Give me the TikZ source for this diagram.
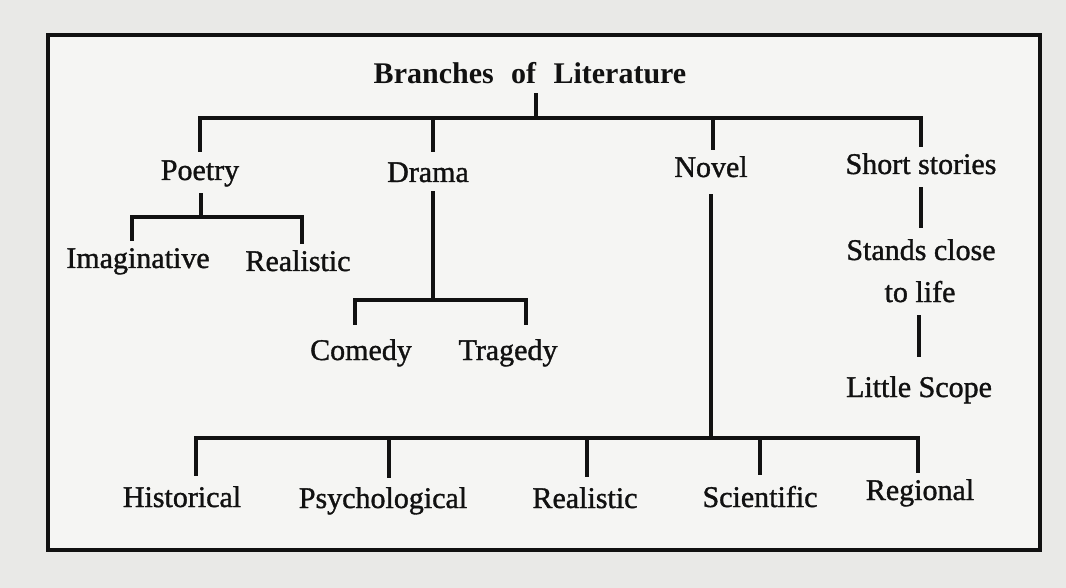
\documentclass[tikz,border=0pt]{standalone}
\usepackage{fontspec}
\setmainfont{Liberation Serif}
\newfontfamily\printfont[FakeBold=1.2]{Liberation Serif}
\definecolor{ink}{HTML}{111111}
\definecolor{pagebg}{HTML}{E9E9E7}
\definecolor{boxbg}{HTML}{F5F5F3}
\begin{document}
\begin{tikzpicture}[x=1pt,y=-1pt,
  item/.style={font=\printfont\fontsize{30}{36}\selectfont, text=ink, anchor=base, inner sep=3pt, text height=20pt, text depth=6pt},
  heading/.style={item, font=\fontsize{30}{36}\selectfont\bfseries},
  link/.style={draw=ink, line width=3.6pt, line cap=butt, line join=miter},
  frame/.style={draw=ink, line width=3.4pt, fill=boxbg}
]
\fill[pagebg] (0,0) rectangle (1066,588);
\useasboundingbox (0,0) rectangle (1066,588);
\draw[frame] (48,35) rectangle (1040,550);

% nodes
\node[heading] (root) at (530,84) {\spaceskip=0.58em\relax Branches of Literature};
\node[item] (poetry) at (200,180) {Poetry};
\node[item] (drama) at (428,182) {Drama};
\node[item] (novel) at (711,177) {Novel};
\node[item] (short) at (921,174) {Short stories};
\node[item] (imag) at (138,268) {Imaginative};
\node[item] (real1) at (298,271) {Realistic};
\node[item] (comedy) at (361,360) {Comedy};
\node[item] (tragedy) at (508,360) {Tragedy};
\node[item] (stands) at (921,260) {Stands close};
\node[item] (tolife) at (920,302) {to life};
\node[item] (little) at (919,397) {Little Scope};
\node[item] (hist) at (182,507) {Historical};
\node[item] (psych) at (383,508) {Psychological};
\node[item] (real2) at (585,508) {Realistic};
\node[item] (sci) at (760,507) {Scientific};
\node[item] (reg) at (920,500) {Regional};

% junction coordinates
\coordinate (tj) at (536,118);
\coordinate (tp) at (200,118);
\coordinate (td) at (433,118);
\coordinate (tn) at (713,118);
\coordinate (ts) at (921,118);
\coordinate (pj) at (201,217);
\coordinate (pl) at (132,217);
\coordinate (pr) at (302,217);
\coordinate (dj) at (433,300);
\coordinate (dl) at (355,300);
\coordinate (dr) at (526,300);
\coordinate (nj) at (711,438);
\coordinate (b1) at (196,438);
\coordinate (b2) at (389,438);
\coordinate (b3) at (587,438);
\coordinate (b4) at (760,438);
\coordinate (b5) at (918,438);

% root
\draw[link] (root.south -| tj) -- (tj);
\draw[link] ([xshift=-1.8pt]tp) -- ([xshift=1.8pt]ts);
\draw[link, shorten >=5pt] (tp) -- (tp |- poetry.north);
\draw[link, shorten >=7pt] (td) -- (td |- drama.north);
\draw[link, shorten >=4pt] (tn) -- (tn |- novel.north);
\draw[link, shorten >=4pt] (ts) -- (ts |- short.north);

% poetry
\draw[link, shorten <=4pt] (poetry.south -| pj) -- (pj);
\draw[link] ([xshift=-1.8pt]pl) -- ([xshift=1.8pt]pr);
\draw[link, shorten >=4pt] (pl) -- (pl |- imag.north);
\draw[link, shorten >=4pt] (pr) -- (pr |- real1.north);

% drama
\draw[link] (drama.south -| dj) -- (dj);
\draw[link] ([xshift=-1.8pt]dl) -- ([xshift=1.8pt]dr);
\draw[link, shorten >=12pt] (dl) -- (dl |- comedy.north);
\draw[link, shorten >=12pt] (dr) -- (dr |- tragedy.north);

% novel
\draw[link, shorten <=8pt] (novel.south -| nj) -- (nj);
\draw[link] ([xshift=-1.8pt]b1) -- ([xshift=1.8pt]b5);
\draw[link, shorten >=8pt] (b1) -- (b1 |- hist.north);
\draw[link, shorten >=7pt] (b2) -- (b2 |- psych.north);
\draw[link, shorten >=8pt] (b3) -- (b3 |- real2.north);
\draw[link, shorten >=9pt] (b4) -- (b4 |- sci.north);
\draw[link, shorten >=4pt] (b5) -- (b5 |- reg.north);

% short stories
\draw[link, shorten <=4pt, shorten >=9pt] (short.south) -- (short.south |- stands.north);
\draw[link, shorten <=4pt, shorten >=17pt] (little.north |- tolife.south) -- (little.north);
\end{tikzpicture}
\end{document}
